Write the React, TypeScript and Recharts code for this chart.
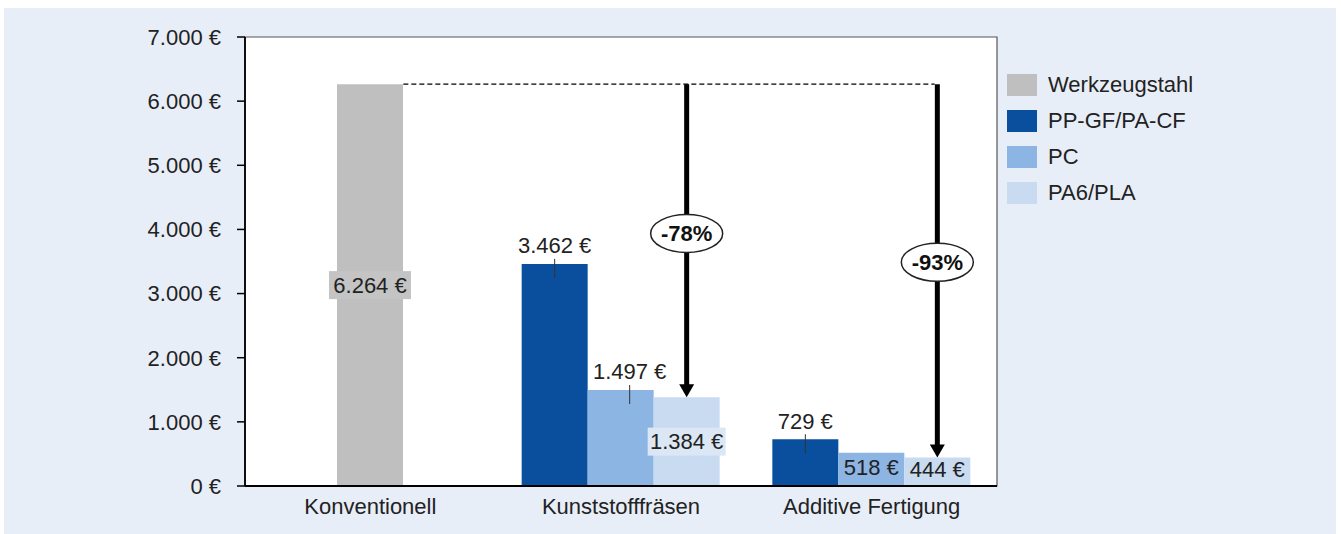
import React from 'react';
import {
  BarChart, Bar, XAxis, YAxis, ReferenceArea, ReferenceLine, LabelList,
} from 'recharts';

const categories = ['Konventionell', 'Kunststofffräsen', 'Additive Fertigung'];
const werkzeugstahl: (number | null)[] = [6264, null, null];
const ppgfpacf: (number | null)[] = [null, 3462, 729];
const pcValues: (number | null)[] = [null, 1497, 518];
const pa6pla: (number | null)[] = [null, 1384, 444];
const yTicks = [0, 1000, 2000, 3000, 4000, 5000, 6000, 7000];

const seriesNames = ['Werkzeugstahl', 'PP-GF/PA-CF', 'PC', 'PA6/PLA'];
const seriesColors = ['#bfbfbf', '#0a4f9d', '#8db5e3', '#c8dbf1'];

const data = categories.map((c, i) => ({
  category: c,
  werkzeugstahl: werkzeugstahl[i],
  ppgf: ppgfpacf[i],
  pc: pcValues[i],
  pa6: pa6pla[i],
}));

const REF = werkzeugstahl[0] as number;
const BAR = 66;
const FONT = '"Liberation Sans", Arial, Helvetica, sans-serif';
const TXT = '#222';
const FS = 22;

const fmt = (v: number) => {
  const s = Math.round(v).toString().replace(/\B(?=(\d{3})+(?!\d))/g, '.');
  return `${s} €`;
};

const geom = (p: any) => {
  const vb = p.viewBox || {};
  return {
    x: Number(p.x ?? vb.x),
    y: Number(p.y ?? vb.y),
    w: Number(p.width ?? vb.width),
    h: Number(p.height ?? vb.height),
    v: p.value,
  };
};

const GreyLabel = (p: any) => {
  const { x, y, w, h, v } = geom(p);
  if (v == null || isNaN(x)) return null;
  const cx = x + w / 2;
  const cy = y + h / 2;
  return (
    <g>
      <rect x={cx - 41} y={cy - 14} width={82} height={28} fill="#c4c4c4" />
      <text x={cx} y={cy} textAnchor="middle" dominantBaseline="central" fill={TXT} fontSize={FS} fontFamily={FONT}>
        {fmt(v)}
      </text>
    </g>
  );
};

const AboveLabel = (shift: number) => (p: any) => {
  const { x, y, w, v } = geom(p);
  if (v == null || isNaN(x)) return null;
  const cx = x + w / 2 + shift;
  return (
    <g>
      <line x1={cx} x2={cx} y1={y - 5} y2={y + 14} stroke="#333" strokeWidth={1} />
      <text x={cx} y={y - 18} textAnchor="middle" dominantBaseline="central" fill={TXT} fontSize={FS} fontFamily={FONT}>
        {fmt(v)}
      </text>
    </g>
  );
};

const PcLabel = (p: any) => {
  const { x, y, w, v } = geom(p);
  if (v == null || isNaN(x)) return null;
  const cat = pcValues.indexOf(v);
  if (cat === 1) return AboveLabel(9)(p);
  const cx = x + w / 2;
  return (
    <text x={cx} y={y + 15} textAnchor="middle" dominantBaseline="central" fill={TXT} fontSize={FS} fontFamily={FONT}>
      {fmt(v)}
    </text>
  );
};

const Pa6Label = (p: any) => {
  const { x, y, w, h, v } = geom(p);
  if (v == null || isNaN(x)) return null;
  const cat = pa6pla.indexOf(v);
  const cx = x + w / 2;
  const bottom = y + h;
  const yRef = bottom - (h * REF) / v;
  const pct = Math.round((1 - v / REF) * 100);
  const ey = yRef + 0.477 * (y - yRef);
  const cy = cat === 2 ? bottom - 17 : y + h / 2;
  return (
    <g>
      {cat === 1 && <rect x={cx - 39} y={cy - 14} width={78} height={28} fill="#dce7f5" />}
      <text x={cx} y={cy} textAnchor="middle" dominantBaseline="central" fill={TXT} fontSize={FS} fontFamily={FONT}>
        {fmt(v)}
      </text>
      <line x1={cx} x2={cx} y1={yRef} y2={y - 12} stroke="#000" strokeWidth={5} />
      <polygon points={`${cx - 7.5},${y - 13} ${cx + 7.5},${y - 13} ${cx},${y}`} fill="#000" />
      <ellipse cx={cx} cy={ey} rx={36} ry={19} fill="#fff" stroke="#222" strokeWidth={1.5} />
      <text x={cx} y={ey} textAnchor="middle" dominantBaseline="central" fill="#111" fontSize={FS} fontWeight="bold" fontFamily={FONT}>
        {`-${pct}%`}
      </text>
    </g>
  );
};

const DashedShape = (p: any) => (
  <line x1={p.x1 + BAR / 2} x2={p.x2 + BAR - 3} y1={p.y1} y2={p.y2} stroke="#000" strokeWidth={1.2} strokeDasharray="5 3" />
);

const Legend2 = () => (
  <div style={{ position: 'absolute', left: 1003, top: 59, fontFamily: FONT, fontSize: FS, color: TXT }}>
    {seriesNames.map((n, i) => (
      <div key={n} style={{ display: 'flex', alignItems: 'center', height: 36 }}>
        <div style={{ width: 30, height: 22, background: seriesColors[i], marginRight: 11 }} />
        <span>{n}</span>
      </div>
    ))}
  </div>
);

export default function App() {
  return (
    <div style={{ position: 'absolute', left: 4, top: 8, width: 1332, height: 526, background: '#e8eef8' }}>
      <BarChart
        width={1332}
        height={526}
        data={data}
        barGap={0}
        margin={{ top: 29, right: 339, bottom: 8, left: 0 }}
        style={{ fontFamily: FONT }}
      >
        <ReferenceArea xAxisId="b" y1={0} y2={7000} fill="#ffffff" fillOpacity={1} stroke="#555" strokeWidth={1.2} ifOverflow="visible" />
        <XAxis
          xAxisId="b"
          dataKey="category"
          height={40}
          tickLine={false}
          tickMargin={6}
          axisLine={{ stroke: '#000', strokeWidth: 1.8 }}
          tick={{ fill: TXT, fontSize: FS, fontFamily: FONT }}
        />
        <XAxis xAxisId="a" dataKey="category" hide height={0} />
        <YAxis
          domain={[0, 7000]}
          ticks={yTicks}
          interval={0}
          tickFormatter={fmt}
          width={241}
          tickSize={8}
          tickMargin={16}
          axisLine={{ stroke: '#000', strokeWidth: 1.8 }}
          tickLine={{ stroke: '#000', strokeWidth: 1.5 }}
          tick={{ fill: TXT, fontSize: FS, fontFamily: FONT }}
        />
        <Bar xAxisId="a" dataKey="werkzeugstahl" name={seriesNames[0]} fill={seriesColors[0]} barSize={BAR} isAnimationActive={false}>
          <LabelList dataKey="werkzeugstahl" content={GreyLabel} />
        </Bar>
        <Bar xAxisId="b" dataKey="ppgf" name={seriesNames[1]} fill={seriesColors[1]} barSize={BAR} isAnimationActive={false}>
          <LabelList dataKey="ppgf" content={AboveLabel(0)} />
        </Bar>
        <Bar xAxisId="b" dataKey="pc" name={seriesNames[2]} fill={seriesColors[2]} barSize={BAR} isAnimationActive={false}>
          <LabelList dataKey="pc" content={PcLabel} />
        </Bar>
        <Bar xAxisId="b" dataKey="pa6" name={seriesNames[3]} fill={seriesColors[3]} barSize={BAR} isAnimationActive={false}>
          <LabelList dataKey="pa6" content={Pa6Label} />
        </Bar>
        <ReferenceLine
          xAxisId="a"
          segment={[{ x: categories[0], y: REF }, { x: categories[2], y: REF }]}
          shape={DashedShape}
        />
      </BarChart>
      <Legend2 />
    </div>
  );
}
